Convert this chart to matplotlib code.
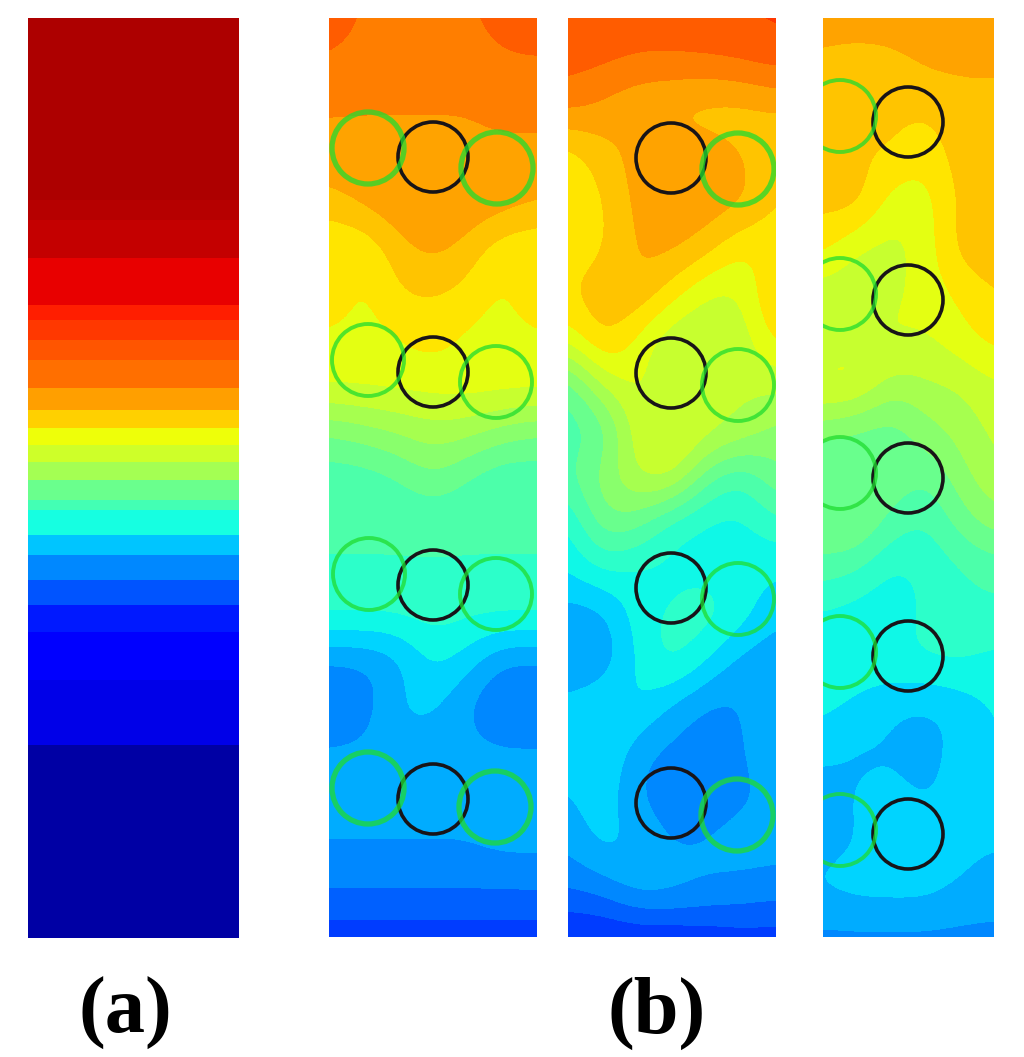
import numpy as np
from matplotlib import pyplot as plt
from matplotlib.colors import BoundaryNorm
from matplotlib.patches import Circle, Rectangle

# colour scale strip, band edges in picture rows and the jet value of each band
scale_edges = [18, 200, 220, 258, 305, 320, 340, 360, 388, 410, 428, 445, 462,
               480, 500, 510, 535, 555, 580, 605, 632, 680, 745, 938]
scale_values = [.958, .95, .94, .91, .875, .85, .82, .79, .74, .69, .64, .60,
                .55, .48, .43, .375, .32, .26, .21, .15, .11, .09, .035]

# field values, top row to bottom row
field_1 = [
    [.81, .78, .78, .78, .78, .80, .81],
    [.78, .77, .77, .77, .77, .78, .78],
    [.75, .75, .75, .75, .75, .76, .76],
    [.74, .74, .74, .74, .74, .74, .74],
    [.70, .73, .75, .76, .75, .74, .72],
    [.64, .64, .70, .73, .70, .65, .64],
    [.68, .63, .68, .68, .67, .63, .68],
    [.63, .63, .64, .66, .63, .63, .63],
    [.62, .62, .62, .62, .63, .63, .63],
    [.50, .52, .54, .56, .55, .52, .50],
    [.44, .44, .46, .50, .46, .43, .44],
    [.43, .43, .43, .43, .43, .43, .43],
    [.43, .43, .43, .43, .43, .43, .43],
    [.40, .40, .40, .41, .40, .40, .40],
    [.28, .28, .30, .37, .34, .28, .28],
    [.24, .26, .33, .33, .28, .24, .24],
    [.30, .30, .30, .30, .30, .30, .30],
    [.29, .29, .29, .29, .29, .29, .29],
    [.29, .29, .29, .29, .29, .30, .30],
    [.25, .25, .25, .25, .25, .25, .25],
    [.19, .19, .19, .19, .19, .19, .19],
]
field_2 = [
    [.82, .82, .81, .81, .82, .82, .83],
    [.80, .79, .78, .78, .78, .79, .80],
    [.76, .74, .71, .70, .69, .69, .71],
    [.65, .70, .73, .74, .74, .72, .68],
    [.65, .67, .73, .74, .74, .73, .68],
    [.66, .67, .72, .73, .70, .64, .65],
    [.68, .70, .72, .66, .60, .60, .70],
    [.62, .70, .63, .57, .57, .58, .66],
    [.46, .58, .62, .57, .57, .58, .58],
    [.44, .46, .60, .63, .60, .57, .52],
    [.46, .52, .58, .60, .47, .42, .50],
    [.38, .50, .48, .40, .38, .38, .42],
    [.36, .40, .38, .38, .38, .37, .36],
    [.30, .30, .38, .40, .42, .38, .33],
    [.28, .29, .36, .42, .36, .30, .29],
    [.34, .36, .37, .31, .27, .28, .33],
    [.35, .37, .29, .27, .27, .28, .31],
    [.31, .35, .28, .27, .27, .28, .29],
    [.29, .34, .32, .28, .29, .30, .30],
    [.25, .26, .31, .31, .29, .28, .27],
    [.17, .17, .17, .17, .18, .19, .19],
]
field_3 = [
    [.74, .75, .75, .75, .75, .75],
    [.70, .68, .69, .72, .72, .72],
    [.70, .69, .69, .68, .70, .70],
    [.69, .68, .68, .65, .70, .70],
    [.69, .71, .62, .62, .69, .70],
    [.66, .60, .59, .62, .70, .70],
    [.58, .58, .60, .62, .65, .68],
    [.58, .60, .62, .60, .63, .66],
    [.63, .63, .55, .57, .57, .60],
    [.50, .48, .47, .52, .55, .58],
    [.47, .48, .50, .46, .52, .57],
    [.50, .52, .45, .42, .48, .52],
    [.45, .43, .38, .40, .42, .44],
    [.38, .37, .37, .40, .42, .42],
    [.38, .38, .39, .40, .40, .38],
    [.37, .35, .32, .31, .33, .36],
    [.33, .31, .32, .31, .33, .36],
    [.30, .33, .33, .32, .33, .35],
    [.31, .32, .33, .33, .33, .32],
    [.33, .34, .34, .34, .32, .31],
    [.27, .27, .27, .27, .27, .27],
]

# circle centres
black_1 = [(433, 157), (433, 372), (433, 585), (433, 799)]
green_1 = [(368, 148), (497, 168), (368, 360), (496, 382),
           (369, 574), (496, 594), (368, 788), (495, 807)]
black_2 = [(671, 158), (671, 373), (671, 588), (671, 803)]
green_2 = [(738, 169), (738, 385), (738, 599), (737, 815)]
black_3 = [(908, 122), (908, 300), (908, 478), (908, 656), (908, 834)]
green_3 = [(840, 116), (840, 294), (840, 473), (840, 652), (840, 830)]

fig = plt.figure(figsize=(10.24, 10.57), dpi=100)
ax = fig.add_axes([0, 0, 1, 1])

ax.pcolormesh([28, 239], scale_edges, np.array(scale_values).reshape(-1, 1),
              cmap='jet', vmin=0, vmax=1)

levels = np.linspace(0, 1, 29)
norm = BoundaryNorm(levels, 256)
panels = [
    (field_1, (329, 537), black_1, green_1),
    (field_2, (568, 776), black_2, green_2),
    (field_3, (823, 994), black_3, green_3),
]
for field, (x0, x1), blacks, greens in panels:
    rows, cols = np.shape(field)
    # values sit on the panel edges, so the image reaches half a cell past them
    dx = (x1 - x0) / (cols - 1) / 2
    dy = 919 / (rows - 1) / 2
    im = ax.imshow(field, extent=(x0 - dx, x1 + dx, 937 + dy, 18 - dy), cmap='jet',
                   norm=norm, interpolation='bicubic', interpolation_stage='data',
                   aspect='auto')
    clip = Rectangle((x0, 18), x1 - x0, 919, transform=ax.transData)
    im.set_clip_path(clip)
    for c in blacks:
        ax.add_patch(Circle(c, 35, fill=False, ec='#181418', lw=2.6))
    for c in greens:
        # the top and bottom rows are drawn heavier in panels one and two
        heavy = (c[1] < 250 or c[1] > 700) and x0 < 800
        circ = Circle(c, 36, fill=False, ec='#20dc30', lw=3.8 if heavy else 2.8, alpha=0.75)
        ax.add_patch(circ)
        circ.set_clip_path(clip)

ax.text(125, 1033, '(a)', family='Liberation Serif', weight='bold', fontsize=58,
        ha='center', va='baseline', color='black')
ax.text(657, 1033, '(b)', family='Liberation Serif', weight='bold', fontsize=58,
        ha='center', va='baseline', color='black')

ax.set_xlim(0, 1024)
ax.set_ylim(1057, 0)
ax.axis('off')
fig.savefig('out.png', dpi=100)
